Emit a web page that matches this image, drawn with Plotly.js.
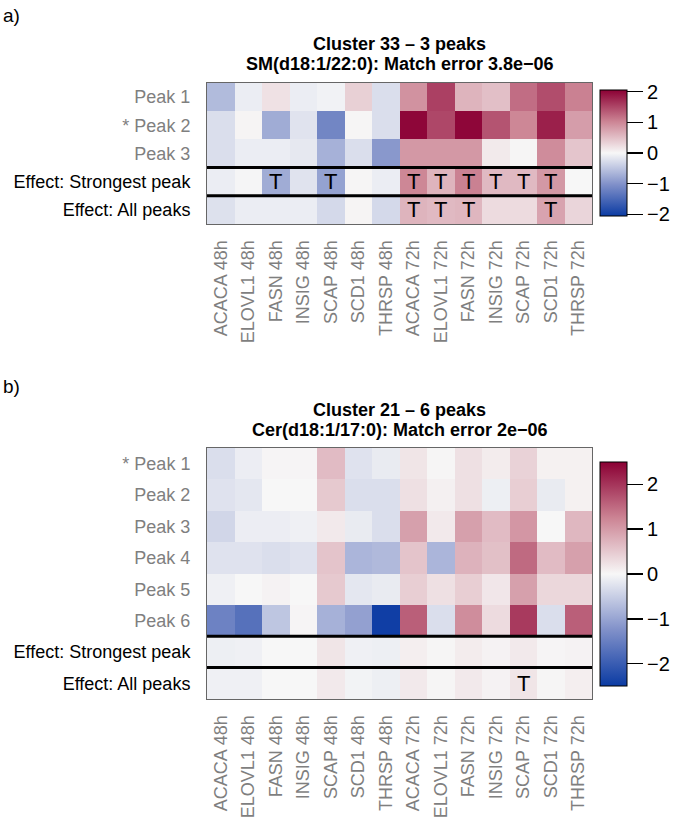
<!DOCTYPE html>
<html>
<head>
<meta charset="utf-8">
<script src="https://cdn.plot.ly/plotly-3.0.1.min.js"></script>
<style>html,body{margin:0;padding:0;background:#fff;} #plot{width:685px;height:819px;}</style>
</head>
<body>
<div id="plot"></div>
<script>
// ---------- data ----------
const conditions = ["ACACA 48h","ELOVL1 48h","FASN 48h","INSIG 48h","SCAP 48h","SCD1 48h","THRSP 48h",
                    "ACACA 72h","ELOVL1 72h","FASN 72h","INSIG 72h","SCAP 72h","SCD1 72h","THRSP 72h"];

// Panel a: Cluster 33
const titleA1 = "Cluster 33 – 3 peaks";
const titleA2 = "SM(d18:1/22:0): Match error 3.8e−06";
const rowsA = ["Peak 1","* Peak 2","Peak 3","Effect: Strongest peak","Effect: All peaks"];
const rowIsPeakA = [true,true,true,false,false];
const a_peak1     = [-0.6,-0.1, 0.2,-0.1,-0.05, 0.35,-0.25, 0.9, 1.55, 0.6, 0.5, 1.2, 1.45, 1.05];
const a_peak2     = [-0.25, 0.03,-0.75,-0.2,-1.15, 0.02,-0.25, 2.0, 1.5, 2.0, 1.4, 1.0, 1.8, 0.8];
const a_peak3     = [-0.25,-0.1,-0.1,-0.15,-0.7,-0.25,-0.95, 0.85, 0.85, 0.85, 0.12, 0.02, 0.95, 0.45];
const a_strongest = [-0.1,-0.02,-0.75,-0.2,-0.85, 0.02,-0.1, 1.0, 0.6, 1.05, 0.55, 0.55, 0.85, 0.0];
const a_all       = [-0.22,-0.1,-0.1,-0.1,-0.3, 0.03,-0.3, 0.6, 0.55, 0.58, 0.25, 0.25, 0.75, 0.3];
const a_T_strongest = [0,0,1,0,1,0,0,1,1,1,1,1,1,0];
const a_T_all       = [0,0,0,0,0,0,0,1,1,1,0,0,1,0];
const a_ticks = [-2,-1,0,1,2];

// Panel b: Cluster 21
const titleB1 = "Cluster 21 – 6 peaks";
const titleB2 = "Cer(d18:1/17:0): Match error 2e−06";
const rowsB = ["* Peak 1","Peak 2","Peak 3","Peak 4","Peak 5","Peak 6","Effect: Strongest peak","Effect: All peaks"];
const rowIsPeakB = [true,true,true,true,true,true,false,false];
const b_peak1 = [-0.3,-0.12, 0.03, 0.03, 0.65,-0.25,-0.15, 0.2, 0.02, 0.25, 0.12, 0.4, 0.07, 0.07];
const b_peak2 = [-0.25,-0.2, 0.0, 0.0, 0.5,-0.3,-0.3, 0.25, 0.08, 0.25,-0.1, 0.45,-0.15, 0.07];
const b_peak3 = [-0.4,-0.12,-0.12,-0.08, 0.15,-0.15,-0.3, 0.95, 0.15, 0.95, 0.65, 1.05, 0.0, 0.7];
const b_peak4 = [-0.25,-0.25,-0.3,-0.25, 0.55,-0.8,-0.75, 0.55,-0.8, 0.75, 0.6, 1.5, 0.65, 0.95];
const b_peak5 = [-0.08, 0.0, 0.05, 0.0, 0.5,-0.2,-0.15, 0.45, 0.25, 0.45, 0.18, 0.95, 0.35, 0.35];
const b_peak6 = [-1.45,-1.7,-0.6, 0.03,-0.85,-1.05,-2.45, 1.6,-0.3, 1.15, 0.3, 1.95,-0.3, 1.6];
const b_strongest = [-0.1,-0.08, 0.0, 0.0, 0.2,-0.08,-0.1, 0.1, 0.02, 0.12, 0.05, 0.15, 0.03, 0.05];
const b_all       = [-0.08,-0.08, 0.0, 0.0, 0.15,-0.05,-0.1, 0.15, 0.02, 0.15, 0.05, 0.2, 0.02, 0.1];
const b_T_strongest = [0,0,0,0,0,0,0,0,0,0,0,0,0,0];
const b_T_all       = [0,0,0,0,0,0,0,0,0,0,0,1,0,0];
const b_ticks = [-2,-1,0,1,2];

// ---------- style ----------
const W = 685, H = 819;
const FONT = "Liberation Sans, Arial, Helvetica, sans-serif";
const GREY = "#7f7f7f";
const colorscale = [
  [0.0, "#0b3ba3"], [0.25, "#8090c9"], [0.5, "#f7f7f7"], [0.75, "#cc8494"], [1.0, "#8b0034"]
];
const px = v => v / W;
const py = v => 1 - v / H;

const colIdx = conditions.map((_, i) => i);

function rowLabels(rows, isPeak) {
  return rows.map((r, i) => isPeak[i] ? '<span style="color:' + GREY + '">' + r + '</span>' : r);
}

function heat(z, rows, xa, ya, zlim, cbTop, cbBot, ticks) {
  return {
    type: "heatmap", z: z, x: colIdx, y: rows.map((_, i) => i),
    xaxis: xa, yaxis: ya, colorscale: colorscale, zmin: -zlim, zmax: zlim,
    hoverinfo: "skip", xgap: 0, ygap: 0,
    colorbar: {
      x: px(600), xanchor: "left", xpad: 0, ypad: 0,
      y: py((cbTop + cbBot) / 2), yanchor: "middle",
      len: cbBot - cbTop, lenmode: "pixels",
      thickness: 27, thicknessmode: "pixels",
      outlinewidth: 1, outlinecolor: "#000",
      ticks: "outside", ticklen: 16, tickwidth: 1.5, tickcolor: "#000",
      tickvals: ticks, tickfont: {family: FONT, size: 20, color: "#000"}
    }
  };
}

const zA = [a_peak1, a_peak2, a_peak3, a_strongest, a_all];
const zB = [b_peak1, b_peak2, b_peak3, b_peak4, b_peak5, b_peak6, b_strongest, b_all];

const traces = [
  heat(zA, rowsA, "x", "y", 2.05, 90, 216, a_ticks),
  heat(zB, rowsB, "x2", "y2", 2.5, 462, 686, b_ticks)
];

function xaxisDef(anchor) {
  return {
    domain: [px(207), px(592)], anchor: anchor,
    range: [-0.5, conditions.length - 0.5],
    tickmode: "array", tickvals: colIdx, ticktext: conditions,
    tickangle: -90, tickfont: {family: FONT, size: 18, color: GREY},
    ticks: "", ticklabelstandoff: 8,
    showline: true, mirror: true, linecolor: "#666", linewidth: 1,
    showgrid: false, zeroline: false, fixedrange: true
  };
}
function yaxisDef(rows, isPeak, top, bot, anchor) {
  return {
    domain: [py(bot), py(top)], anchor: anchor,
    range: [rows.length - 0.5, -0.5],
    tickmode: "array", tickvals: rows.map((_, i) => i), ticktext: rowLabels(rows, isPeak),
    tickfont: {family: FONT, size: 18, color: "#000"},
    ticks: "", ticklabelstandoff: 12,
    showline: true, mirror: true, linecolor: "#666", linewidth: 1,
    showgrid: false, zeroline: false, fixedrange: true
  };
}

const shapes = [];
function sep(xref, yref, yv) {
  shapes.push({type: "line", xref: xref, yref: yref, x0: -0.5, x1: conditions.length - 0.5,
               y0: yv, y1: yv, line: {color: "#000", width: 3}});
}
sep("x", "y", 2.5); sep("x", "y", 3.5);
sep("x2", "y2", 5.5); sep("x2", "y2", 6.5);

const annotations = [];
function addT(flags, row, xref, yref) {
  flags.forEach((f, i) => {
    if (f) annotations.push({xref: xref, yref: yref, x: i, y: row, text: "T", showarrow: false,
      font: {family: FONT, size: 22, color: "#000"}, xanchor: "center", yanchor: "middle"});
  });
}
addT(a_T_strongest, 3, "x", "y"); addT(a_T_all, 4, "x", "y");
addT(b_T_strongest, 6, "x2", "y2"); addT(b_T_all, 7, "x2", "y2");

function txt(text, x, y, size, bold, anchor) {
  annotations.push({xref: "paper", yref: "paper", x: px(x), y: py(y), text: bold ? "<b>" + text + "</b>" : text,
    showarrow: false, xanchor: anchor || "center", yanchor: "middle",
    font: {family: FONT, size: size, color: "#000"}});
}
const cx = (207 + 592) / 2;
txt("a)", 1, 15, 19, false, "left");
txt(titleA1, cx, 44, 18, true);
txt(titleA2, cx, 64, 18, true);
txt("b)", 1, 386, 19, false, "left");
txt(titleB1, cx, 410, 18, true);
txt(titleB2, cx, 430, 18, true);

const layout = {
  width: W, height: H, margin: {l: 0, r: 0, t: 0, b: 0},
  paper_bgcolor: "#fff", plot_bgcolor: "#fff", showlegend: false,
  font: {family: FONT},
  xaxis: xaxisDef("y"),
  yaxis: yaxisDef(rowsA, rowIsPeakA, 83, 224, "x"),
  xaxis2: xaxisDef("y2"),
  yaxis2: yaxisDef(rowsB, rowIsPeakB, 448, 699, "x2"),
  shapes: shapes, annotations: annotations
};

Plotly.newPlot("plot", traces, layout, {staticPlot: true, displayModeBar: false});
</script>
</body>
</html>
